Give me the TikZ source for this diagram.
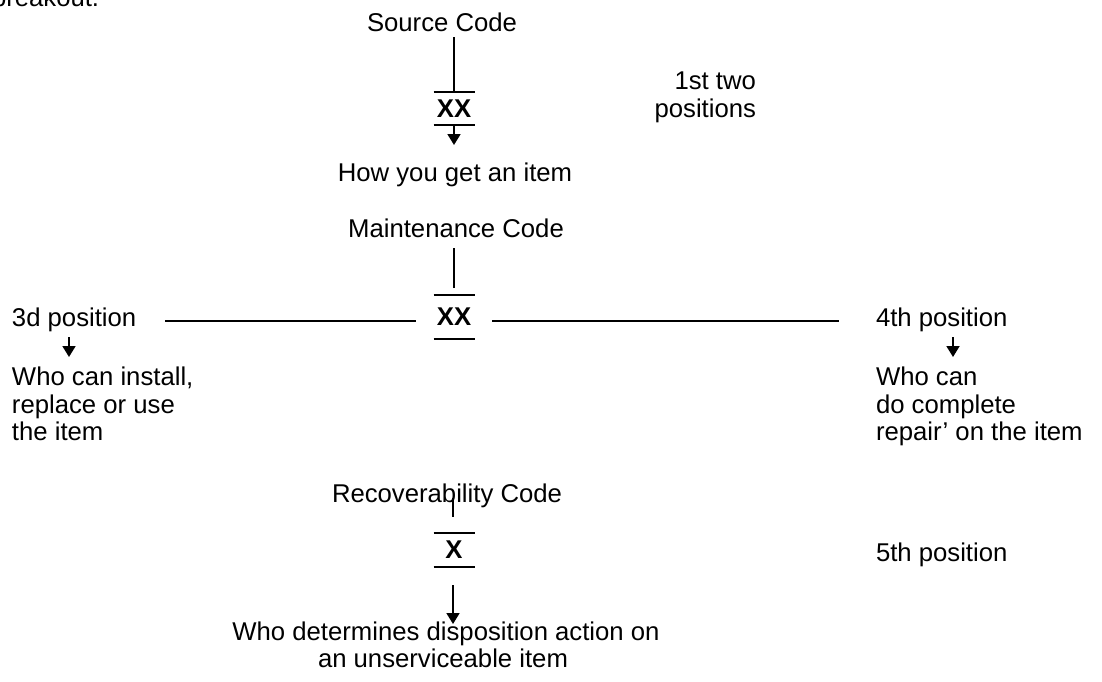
\documentclass[tikz,border=0pt]{standalone}
\usepackage{fontspec}
\setmainfont{Liberation Sans}
\usetikzlibrary{arrows.meta}
\begin{document}
\begin{tikzpicture}[x=1pt,y=-1pt,
  every node/.style={inner sep=0pt,outer sep=0pt,font=\fontsize{25.7}{27.6}\selectfont},
  txt/.style={anchor=base},
  codebox/.style={font=\fontsize{25.7}{27.6}\selectfont\bfseries,minimum width=41pt},
  ln/.style={line width=1.8pt},
  arr/.style={line width=1.8pt,-{Triangle[width=13pt,length=11pt]}}]
\useasboundingbox (0,0) rectangle (1102,681);
\clip (0,0) rectangle (1102,681);
% clipped heading
\node[anchor=base west] (brk) at (-8,6) {breakout.};
% Source code
\node[txt] (src) at (442,31) {Source Code};
\node[codebox,minimum height=33pt] (xx1) at (454,108.5) {XX};
\draw[ln] (xx1.north west) -- (xx1.north east);
\draw[ln] (xx1.south west) -- (xx1.south east);
\draw[ln] ([yshift=55pt]xx1.north) -- (xx1.north);
\draw[arr] (xx1.south) -- ++(0,20);
\node[txt] (how) at (455,181) {How you get an item};
\node[anchor=base east] (p12a) at (756,89) {1st two};
\node[anchor=base east] (p12b) at (756,117) {positions};
% Maintenance code
\node[txt] (mnt) at (456,237) {Maintenance Code};
\node[codebox,minimum height=44pt] (xx2) at (454,317) {XX};
\draw[ln] (xx2.north west) -- (xx2.north east);
\draw[ln] (xx2.south west) -- (xx2.south east);
\draw[ln] ([yshift=7pt]xx2.north) -- ([yshift=47pt]xx2.north);
\node[anchor=base west] (p3) at (12,326) {3d position};
\node[anchor=base west] (p4) at (876,326) {4th position};
\coordinate (hlA) at (165,321);
\coordinate (hlB) at (416,321);
\coordinate (hrA) at (492,321);
\coordinate (hrB) at (839,321);
\draw[ln] (hlA) -- (hlB);
\draw[ln] (hrA) -- (hrB);
\coordinate (a3) at (69,337);
\coordinate (a4) at (953,337);
\draw[arr] (a3) -- ++(0,20);
\draw[arr] (a4) -- ++(0,20);
\node[anchor=base west] (w3a) at (12,385) {Who can install,};
\node[anchor=base west] (w3b) at (12,413) {replace or use};
\node[anchor=base west] (w3c) at (12,440) {the item};
\node[anchor=base west] (w4a) at (876,385) {Who can};
\node[anchor=base west] (w4b) at (876,413) {do complete};
\node[anchor=base west] (w4c) at (876,440) {repair’ on the item};
% Recoverability code
\node[txt] (rec) at (447,502) {Recoverability Code};
\node[codebox,minimum height=34pt] (xx3) at (454,550) {X};
\draw[ln] (xx3.north west) -- (xx3.north east);
\draw[ln] (xx3.south west) -- (xx3.south east);
\draw[ln] ([xshift=-1pt,yshift=35pt]xx3.north) -- ([xshift=-1pt,yshift=16pt]xx3.north);
\draw[arr] ([xshift=-1pt,yshift=-18pt]xx3.south) -- ++(0,39);
\node[anchor=base west] (p5) at (876,561) {5th position};
\node[txt] (dis1) at (446,640) {Who determines disposition action on};
\node[txt] (dis2) at (443,667) {an unserviceable item};
\end{tikzpicture}
\end{document}
